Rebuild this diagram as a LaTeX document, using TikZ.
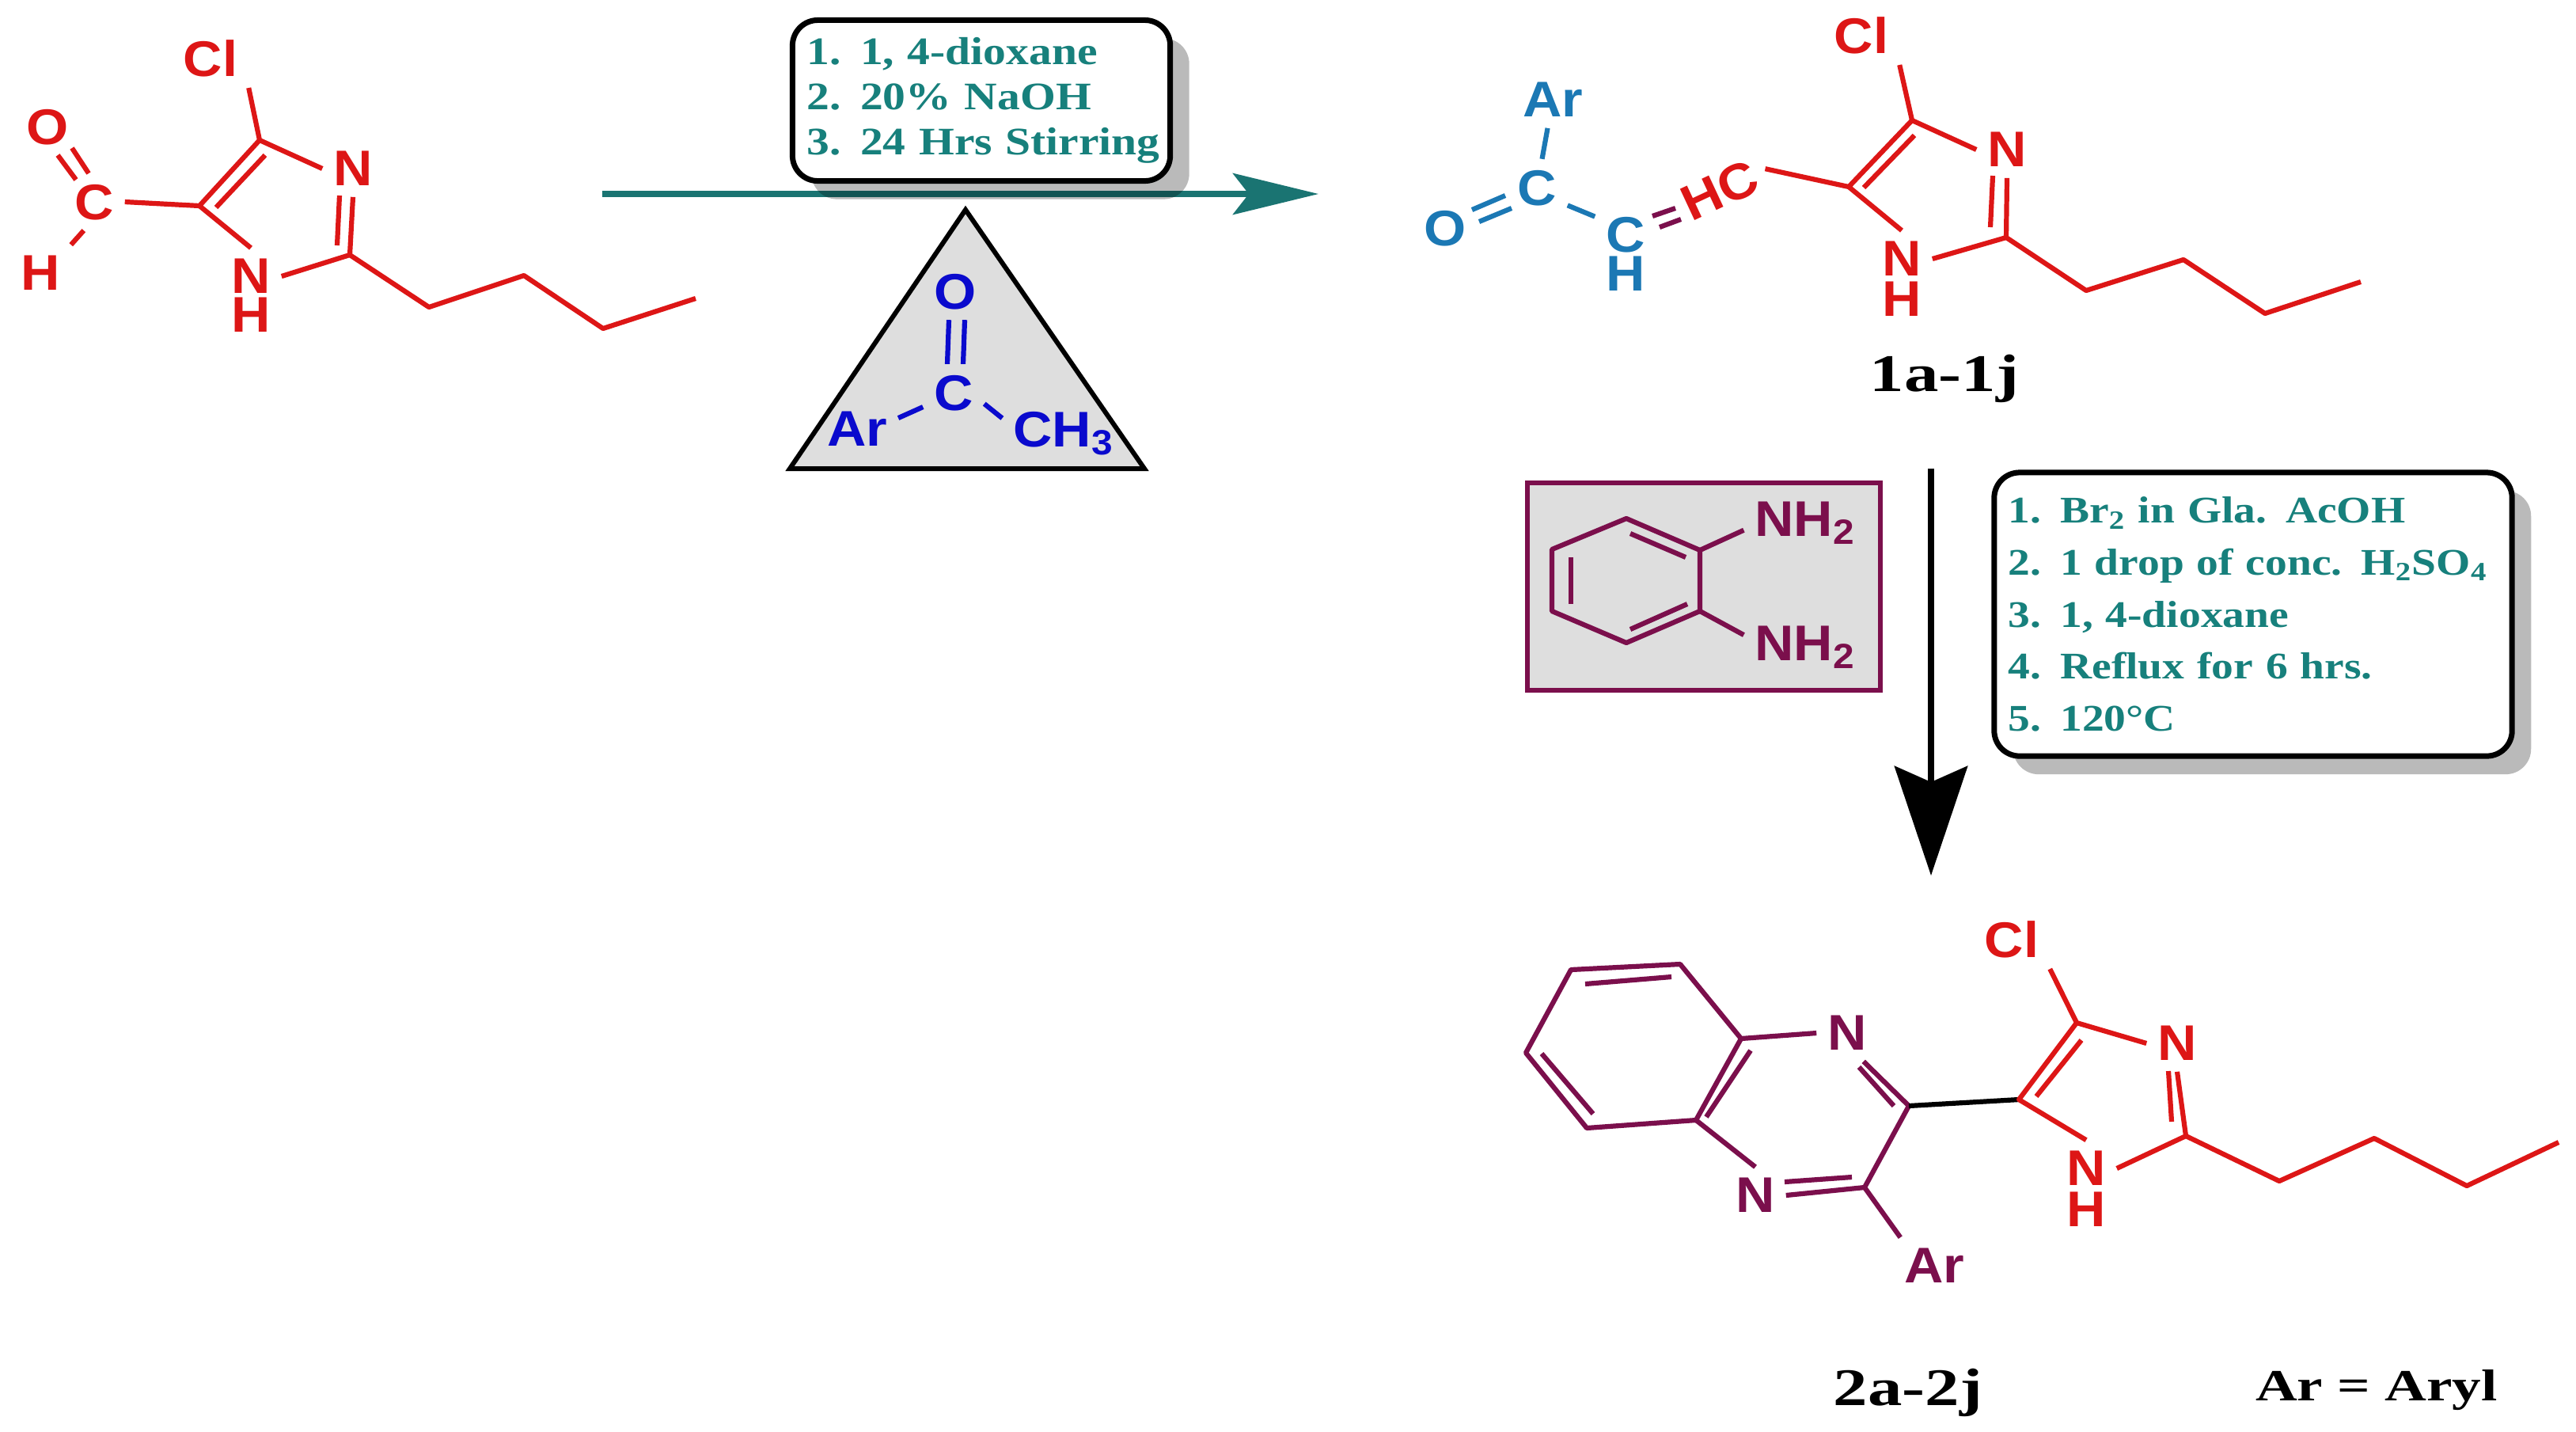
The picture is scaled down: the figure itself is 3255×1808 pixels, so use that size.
\documentclass[tikz,border=0pt]{standalone}
\usepackage{fontspec}
\usetikzlibrary{arrows.meta,shadows}
\newfontfamily\atomfont{Liberation Sans}[FakeStretch=1.08]
\newfontfamily\reagentfont{Liberation Serif}[FakeStretch=1.17]
\newfontfamily\captionfont{Liberation Serif}[FakeStretch=1.3]
\definecolor{redbond}{HTML}{DD1616}
\definecolor{bluebond}{HTML}{1B78B4}
\definecolor{deepblue}{HTML}{0A0ACD}
\definecolor{plum}{HTML}{7B0F4C}
\definecolor{tealtext}{HTML}{17807C}
\definecolor{tealline}{HTML}{1A7472}
\definecolor{panel}{HTML}{DEDEDE}
\tikzset{
  atom/.style={font=\atomfont\bfseries\fontsize{18}{20}\selectfont,inner sep=1pt,outer sep=3pt,text depth=0pt},
  bond/.style={line width=.062cm,line join=round},
  reagentbox/.style={draw=black,fill=white,line width=.07cm,rounded corners=.32cm,inner xsep=.18cm,inner ysep=0pt,align=left,text=tealtext,
    drop shadow={shadow xshift=.24cm,shadow yshift=-.23cm,fill=black,opacity=.27}},
  caption/.style={font=\captionfont\bfseries\fontsize{19}{22}\selectfont,inner sep=0pt,text=black}
}
\begin{document}
\begin{tikzpicture}[x=0.01cm,y=-0.01cm]
\useasboundingbox (0,0) rectangle (3255,1808);

% first step arrow and its boxes
\coordinate (ra) at (761,245);
\coordinate (rb) at (1666,245);
\draw[tealline,line width=.08cm,-{Stealth[length=1.08cm,width=.52cm,inset=.2cm]}] (ra) -- (rb);
\node[reagentbox,text width=4.41cm,minimum height=2.03cm,font=\reagentfont\bfseries\fontsize{14}{16.3}\selectfont] (boxa) at (1240,127)
  {1. 1, 4-dioxane\\2. 20\% NaOH\\\mbox{3. 24 Hrs Stirring}};
\coordinate (ta) at (1220,265);
\coordinate (tb) at (998,592);
\coordinate (tc) at (1446,592);
\draw[fill=panel,line width=.06cm,line join=miter] (ta) -- (tb) -- (tc) -- cycle;
\node[atom,text=deepblue] (ko) at (1207,368) {O};
\node[atom,text=deepblue] (kc) at (1205,496) {C};
\node[atom,text=deepblue] (kar) at (1083,542) {Ar};
\node[atom,text=deepblue] (kme) at (1344,542) {CH\textsubscript{3}};
\draw[bond,deepblue] ([xshift=-.08cm]ko.south) -- ([xshift=-.08cm]kc.north);
\draw[bond,deepblue] ([xshift=.12cm]ko.south) -- ([xshift=.12cm]kc.north);
\draw[bond,deepblue] (kc.205) -- (kar.15);
\draw[bond,deepblue] (kc.-20) -- (kme.170);

% aldehyde
\node[atom,text=redbond] (acl) at (266,74) {Cl};
\node[atom,text=redbond] (an3) at (446,213) {N};
\node[atom,text=redbond] (an1) at (317,349) {N};
\node[atom,text=redbond] (ah1) at (317,398) {H};
\node[atom,text=redbond] (ac) at (119,255) {C};
\node[atom,text=redbond] (ao) at (60,160) {O};
\node[atom,text=redbond] (ah) at (51,345) {H};
\coordinate (ac4) at (328,177);
\coordinate (ac5) at (252,260);
\coordinate (ac2) at (442,322);
\coordinate (aia) at (335,196);
\coordinate (aib) at (273,262);
\coordinate (aic) at (429,247);
\coordinate (aid) at (426,310);
\coordinate (aoa) at (73,196);
\coordinate (aob) at (96,227);
\coordinate (aoc) at (91,187);
\coordinate (aod) at (112,219);
\coordinate (ab1) at (542,388);
\coordinate (ab2) at (662,348);
\coordinate (ab3) at (762,415);
\coordinate (ab4) at (879,377);
\draw[bond,redbond] (acl.south east) -- (ac4) -- (an3.west);
\draw[bond,redbond] (ac4) -- (ac5) -- (an1.north);
\draw[bond,redbond] (aia) -- (aib);
\draw[bond,redbond] (an3.south) -- (ac2) -- (an1.east);
\draw[bond,redbond] (aic) -- (aid);
\draw[bond,redbond] (ac2) -- (ab1) -- (ab2) -- (ab3) -- (ab4);
\draw[bond,redbond] (ac5) -- (ac.east);
\draw[bond,redbond] (aoa) -- (aob);
\draw[bond,redbond] (aoc) -- (aod);
\draw[bond,redbond] (ac.250) -- (ah.north east);

% chalcone 1a-1j
\node[atom,text=bluebond] (bar) at (1962,126) {Ar};
\node[atom,text=bluebond] (bc) at (1942,237) {C};
\node[atom,text=bluebond] (bo) at (1826,288) {O};
\node[atom,text=bluebond] (bch) at (2054,296) {C};
\node[atom,text=bluebond] (bh) at (2054,346) {H};
\node[atom,text=redbond,rotate=25] (bhc) at (2173,240) {HC};
\node[atom,text=redbond] (bcl) at (2352,45) {Cl};
\node[atom,text=redbond] (bn3) at (2536,189) {N};
\node[atom,text=redbond] (bn1) at (2403,327) {N};
\node[atom,text=redbond] (bh1) at (2403,378) {H};
\node[caption] (lba) at (2457,478) {1a-1j};
\coordinate (bc4) at (2416,152);
\coordinate (bc5) at (2336,236);
\coordinate (bc2) at (2535,300);
\coordinate (bia) at (2419,171);
\coordinate (bib) at (2355,237);
\coordinate (bic) at (2518,222);
\coordinate (bid) at (2515,287);
\coordinate (boa) at (1860,265);
\coordinate (bob) at (1902,247);
\coordinate (boc) at (1869,280);
\coordinate (bod) at (1910,263);
\coordinate (bda) at (2088,273);
\coordinate (bdb) at (2117,263);
\coordinate (bdc) at (2097,287);
\coordinate (bdd) at (2124,277);
\coordinate (bb1) at (2636,367);
\coordinate (bb2) at (2759,328);
\coordinate (bb3) at (2862,396);
\coordinate (bb4) at (2983,356);
\draw[bond,bluebond] (bar) -- (bc);
\draw[bond,bluebond] (boa) -- (bob);
\draw[bond,bluebond] (boc) -- (bod);
\draw[bond,bluebond] (bc.-30) -- (bch.150);
\draw[bond,plum] (bda) -- (bdb);
\draw[bond,plum] (bdc) -- (bdd);
\draw[bond,redbond] (bhc.east) -- (bc5);
\draw[bond,redbond] (bcl.south east) -- (bc4) -- (bn3.west);
\draw[bond,redbond] (bc4) -- (bc5) -- (bn1.north);
\draw[bond,redbond] (bia) -- (bib);
\draw[bond,redbond] (bn3.south) -- (bc2) -- (bn1.east);
\draw[bond,redbond] (bic) -- (bid);
\draw[bond,redbond] (bc2) -- (bb1) -- (bb2) -- (bb3) -- (bb4);

% second step arrow and its boxes
\coordinate (sa) at (2440,592);
\coordinate (sb) at (2440,1106);
\draw[black,line width=.08cm,-{Stealth[length=1.38cm,width=.92cm,inset=.2cm]}] (sa) -- (sb);
\node[draw=plum,fill=panel,line width=.06cm,minimum width=4.45cm,minimum height=2.61cm,inner sep=0pt] (boxd) at (2153,741) {};
\node[reagentbox,text width=6.18cm,minimum height=3.58cm,font=\reagentfont\bfseries\fontsize{13.5}{18.7}\selectfont] (boxb) at (2847,776)
  {1. Br\textsubscript{2} in Gla. AcOH\\2. 1 drop of conc. H\textsubscript{2}SO\textsubscript{4}\\3. 1, 4-dioxane\\4. Reflux for 6 hrs.\\5. 120°C};
\coordinate (da) at (2055,655);
\coordinate (db) at (2148,695);
\coordinate (dc) at (2148,772);
\coordinate (dd) at (2055,812);
\coordinate (de) at (1961,772);
\coordinate (df) at (1961,694);
\coordinate (dia) at (2060,674);
\coordinate (dib) at (2130,704);
\coordinate (dic) at (2060,795);
\coordinate (did) at (2132,763);
\coordinate (die) at (1985,704);
\coordinate (dif) at (1985,763);
\node[atom,text=plum] (dna) at (2281,656) {NH\textsubscript{2}};
\node[atom,text=plum] (dnb) at (2281,813) {NH\textsubscript{2}};
\draw[bond,plum] (da) -- (db) -- (dc) -- (dd) -- (de) -- (df) -- cycle;
\draw[bond,plum] (dia) -- (dib);
\draw[bond,plum] (dic) -- (did);
\draw[bond,plum] (die) -- (dif);
\draw[bond,plum] (db) -- (dna.190);
\draw[bond,plum] (dc) -- (dnb.172);

% quinoxaline 2a-2j
\node[atom,text=plum] (cna) at (2334,1305) {N};
\node[atom,text=plum] (cnb) at (2218,1510) {N};
\node[atom,text=plum] (car) at (2444,1599) {Ar};
\node[atom,text=redbond] (ccl) at (2542,1187) {Cl};
\node[atom,text=redbond] (cn3) at (2751,1318) {N};
\node[atom,text=redbond] (cn1) at (2636,1476) {N};
\node[atom,text=redbond] (ch1) at (2636,1528) {H};
\node[caption] (lca) at (2411,1759) {2a-2j};
\node[caption,font=\captionfont\bfseries\fontsize{16}{20}\selectfont] (lcb) at (3003,1756) {Ar = Aryl};
\coordinate (ca) at (1985,1225);
\coordinate (cb) at (2123,1218);
\coordinate (cc) at (2200,1312);
\coordinate (cd) at (2143,1415);
\coordinate (ce) at (2005,1425);
\coordinate (cf) at (1928,1330);
\coordinate (cia) at (2003,1243);
\coordinate (cib) at (2112,1234);
\coordinate (cic) at (1948,1331);
\coordinate (cid) at (2013,1407);
\coordinate (cie) at (2212,1327);
\coordinate (cif) at (2156,1411);
\coordinate (cg) at (2412,1397);
\coordinate (ch) at (2356,1500);
\coordinate (cig) at (2349,1348);
\coordinate (cih) at (2393,1397);
\coordinate (cii) at (2255,1493);
\coordinate (cij) at (2340,1487);
\coordinate (ci5) at (2551,1389);
\coordinate (ci4) at (2624,1292);
\coordinate (ci2) at (2762,1435);
\coordinate (cik) at (2630,1314);
\coordinate (cil) at (2573,1385);
\coordinate (cim) at (2740,1353);
\coordinate (cin) at (2744,1417);
\coordinate (cb1) at (2880,1492);
\coordinate (cb2) at (3000,1438);
\coordinate (cb3) at (3117,1498);
\coordinate (cb4) at (3233,1443);
\draw[bond,plum] (ca) -- (cb) -- (cc) -- (cd) -- (ce) -- (cf) -- cycle;
\draw[bond,plum] (cia) -- (cib);
\draw[bond,plum] (cic) -- (cid);
\draw[bond,plum] (cie) -- (cif);
\draw[bond,plum] (cc) -- (cna.west);
\draw[bond,plum] (cna.-60) -- (cg) -- (ch) -- (cnb.east);
\draw[bond,plum] (cig) -- (cih);
\draw[bond,plum] (cii) -- (cij);
\draw[bond,plum] (cd) -- (cnb.north);
\draw[bond,plum] (ch) -- (car.140);
\draw[bond,black] (cg) -- (ci5);
\draw[bond,redbond] (ccl.south east) -- (ci4) -- (cn3.west);
\draw[bond,redbond] (ci4) -- (ci5) -- (cn1.north);
\draw[bond,redbond] (cik) -- (cil);
\draw[bond,redbond] (cn3.south) -- (ci2) -- (cn1.east);
\draw[bond,redbond] (cim) -- (cin);
\draw[bond,redbond] (ci2) -- (cb1) -- (cb2) -- (cb3) -- (cb4);
\end{tikzpicture}
\end{document}
